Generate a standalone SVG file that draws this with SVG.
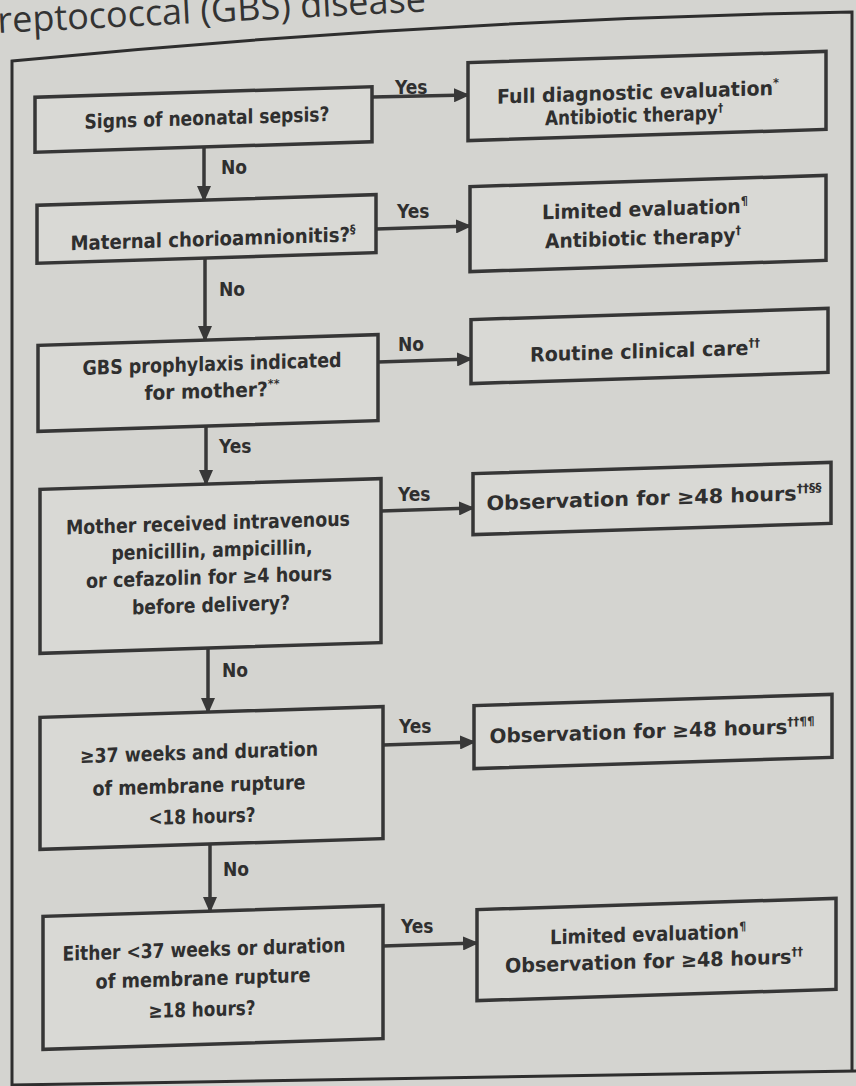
<svg xmlns="http://www.w3.org/2000/svg" width="856" height="1086" viewBox="0 0 856 1086">
  <style>
    .box { fill: #d9d9d5; stroke: #363636; stroke-width: 3.5; }
    .t { font-family: "Liberation Sans Narrow", "DejaVu Sans Condensed", "Noto Sans", sans-serif; font-size: 20px; font-weight: bold; fill: #2f2f2f; text-anchor: middle; }
    .sup { font-size: 12px; }
    .lbl { font-family: "Liberation Sans Narrow", "DejaVu Sans Condensed", "Noto Sans", sans-serif; font-size: 19px; font-weight: bold; fill: #2f2f2f; }
    .edge { stroke: #383838; stroke-width: 3.5; fill: none; marker-end: url(#ah); }
    .frame { stroke: #2e2e2e; stroke-width: 3; fill: none; }
  </style>
  <defs>
    <marker id="ah" markerWidth="16" markerHeight="14" refX="14" refY="7" orient="auto" markerUnits="userSpaceOnUse">
      <path d="M0,0 L16,7 L0,14 Z" fill="#383838"/>
    </marker>
  </defs>

  <!-- paper -->
  <rect x="0" y="0" width="856" height="1086" fill="#d4d4d0"/>

  <!-- heading, running off the top edge -->
  <text x="-2" y="33" transform="rotate(-2.9 0 33)" font-family="Open Sans, Noto Sans, sans-serif" font-size="36" fill="#333">reptococcal (GBS) disease</text>

  <!-- outer frame -->
  <path class="frame" d="M12,1086 L12,61 Q430,20 852,12 L852,1071"/>
  <path class="frame" d="M12,1085 L856,1071"/>

  <!-- connectors -->
  <g id="connectors">
    <line class="edge" x1="372" y1="97" x2="468" y2="95"/>
    <text class="lbl" x="395" y="94">Yes</text>
    <line class="edge" x1="204" y1="147" x2="204" y2="200"/>
    <text class="lbl" x="221" y="174">No</text>

    <line class="edge" x1="376" y1="229" x2="470" y2="226"/>
    <text class="lbl" x="397" y="218">Yes</text>
    <line class="edge" x1="205" y1="258" x2="205" y2="340"/>
    <text class="lbl" x="219" y="296">No</text>

    <line class="edge" x1="378" y1="362" x2="471" y2="359"/>
    <text class="lbl" x="398" y="351">No</text>
    <line class="edge" x1="206" y1="426" x2="206" y2="484"/>
    <text class="lbl" x="219" y="453">Yes</text>

    <line class="edge" x1="381" y1="511" x2="473" y2="508"/>
    <text class="lbl" x="398" y="501">Yes</text>
    <line class="edge" x1="208" y1="648" x2="208" y2="712"/>
    <text class="lbl" x="222" y="677">No</text>

    <line class="edge" x1="383" y1="745" x2="474" y2="742"/>
    <text class="lbl" x="399" y="733">Yes</text>
    <line class="edge" x1="210" y1="844" x2="210" y2="911"/>
    <text class="lbl" x="223" y="876">No</text>

    <line class="edge" x1="383" y1="946" x2="477" y2="943"/>
    <text class="lbl" x="401" y="933">Yes</text>
  </g>

  <!-- decision nodes (left column) -->
  <g id="q-sepsis" transform="translate(203 120) skewY(-1.8) translate(-203 -120)">
    <rect class="box" x="35" y="92" width="337" height="55"/>
    <text class="t" x="207" y="125" textLength="245" lengthAdjust="spacingAndGlyphs">Signs of neonatal sepsis?</text>
  </g>

  <g id="q-chorio" transform="translate(206 229) skewY(-1.8) translate(-206 -229)">
    <rect class="box" x="37" y="200" width="339" height="58"/>
    <text class="t" x="213" y="246" textLength="285" lengthAdjust="spacingAndGlyphs">Maternal chorioamnionitis?<tspan class="sup" dy="-8">§</tspan></text>
  </g>

  <g id="q-gbs" transform="translate(208 383) skewY(-1.8) translate(-208 -383)">
    <rect class="box" x="38" y="340" width="340" height="86"/>
    <text class="t" x="212" y="371" textLength="259" lengthAdjust="spacingAndGlyphs">GBS prophylaxis indicated</text>
    <text class="t" x="212" y="398" textLength="135" lengthAdjust="spacingAndGlyphs">for mother?<tspan class="sup" dy="-8">**</tspan></text>
  </g>

  <g id="q-antibiotic" transform="translate(210 566) skewY(-1.8) translate(-210 -566)">
    <rect class="box" x="40" y="484" width="341" height="164"/>
    <text class="t" x="208" y="530" textLength="284" lengthAdjust="spacingAndGlyphs">Mother received intravenous</text>
    <text class="t" x="212" y="557" textLength="201" lengthAdjust="spacingAndGlyphs">penicillin, ampicillin,</text>
    <text class="t" x="209" y="584" textLength="246" lengthAdjust="spacingAndGlyphs">or cefazolin for ≥4 hours</text>
    <text class="t" x="211" y="612" textLength="158" lengthAdjust="spacingAndGlyphs">before delivery?</text>
  </g>

  <g id="q-term" transform="translate(211 778) skewY(-1.8) translate(-211 -778)">
    <rect class="box" x="40" y="712" width="343" height="132"/>
    <text class="t" x="199" y="759" textLength="238" lengthAdjust="spacingAndGlyphs">≥37 weeks and duration</text>
    <text class="t" x="199" y="792" textLength="213" lengthAdjust="spacingAndGlyphs">of membrane rupture</text>
    <text class="t" x="202" y="823" textLength="107" lengthAdjust="spacingAndGlyphs">&lt;18 hours?</text>
  </g>

  <g id="q-preterm" transform="translate(213 977) skewY(-1.8) translate(-213 -977)">
    <rect class="box" x="43" y="911" width="340" height="133"/>
    <text class="t" x="204" y="956" textLength="283" lengthAdjust="spacingAndGlyphs">Either &lt;37 weeks or duration</text>
    <text class="t" x="203" y="985" textLength="215" lengthAdjust="spacingAndGlyphs">of membrane rupture</text>
    <text class="t" x="202" y="1016" textLength="107" lengthAdjust="spacingAndGlyphs">≥18 hours?</text>
  </g>

  <!-- action nodes (right column) -->
  <g id="a-full-eval" transform="translate(647 96) skewY(-1.8) translate(-647 -96)">
    <rect class="box" x="468" y="57" width="358" height="78"/>
    <text class="t" x="638" y="99" textLength="282" lengthAdjust="spacingAndGlyphs">Full diagnostic evaluation<tspan class="sup" dy="-8">*</tspan></text>
    <text class="t" x="634" y="122" textLength="178" lengthAdjust="spacingAndGlyphs">Antibiotic therapy<tspan class="sup" dy="-8">†</tspan></text>
  </g>

  <g id="a-limited-abx" transform="translate(648 224) skewY(-1.8) translate(-648 -224)">
    <rect class="box" x="470" y="181" width="356" height="85"/>
    <text class="t" x="645" y="216" textLength="206" lengthAdjust="spacingAndGlyphs">Limited evaluation<tspan class="sup" dy="-8">¶</tspan></text>
    <text class="t" x="643" y="245" textLength="196" lengthAdjust="spacingAndGlyphs">Antibiotic therapy<tspan class="sup" dy="-8">†</tspan></text>
  </g>

  <g id="a-routine" transform="translate(649 346) skewY(-1.8) translate(-649 -346)">
    <rect class="box" x="471" y="314" width="357" height="64"/>
    <text class="t" x="645" y="358" textLength="230" lengthAdjust="spacingAndGlyphs">Routine clinical care<tspan class="sup" dy="-8">††</tspan></text>
  </g>

  <g id="a-observe-1" transform="translate(652 499) skewY(-1.8) translate(-652 -499)">
    <rect class="box" x="473" y="468" width="358" height="61"/>
    <text class="t" x="654" y="505" textLength="335" lengthAdjust="spacingAndGlyphs">Observation for ≥48 hours<tspan class="sup" dy="-8">††§§</tspan></text>
  </g>

  <g id="a-observe-2" transform="translate(653 732) skewY(-1.8) translate(-653 -732)">
    <rect class="box" x="474" y="700" width="358" height="63"/>
    <text class="t" x="652" y="738" textLength="325" lengthAdjust="spacingAndGlyphs">Observation for ≥48 hours<tspan class="sup" dy="-8">††¶¶</tspan></text>
  </g>

  <g id="a-limited-observe" transform="translate(656 950) skewY(-1.8) translate(-656 -950)">
    <rect class="box" x="477" y="904" width="359" height="91"/>
    <text class="t" x="648" y="941" textLength="196" lengthAdjust="spacingAndGlyphs">Limited evaluation<tspan class="sup" dy="-8">¶</tspan></text>
    <text class="t" x="654" y="968" textLength="298" lengthAdjust="spacingAndGlyphs">Observation for ≥48 hours<tspan class="sup" dy="-8">††</tspan></text>
  </g>
</svg>
